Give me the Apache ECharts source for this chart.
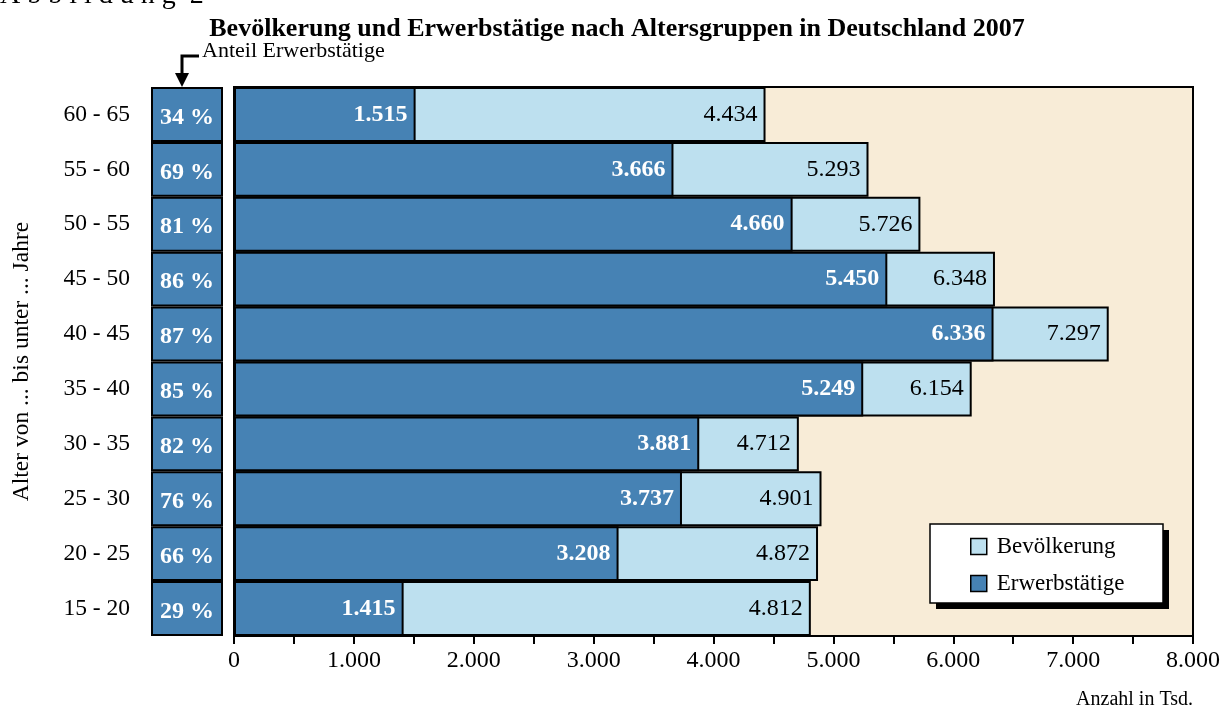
<!DOCTYPE html>
<html>
<head>
<meta charset="utf-8">
<script src="https://cdn.jsdelivr.net/npm/echarts@6/dist/echarts.min.js"></script>
<style>html,body{margin:0;padding:0;background:#fff;}#c{width:1230px;height:722px;}</style>
</head>
<body>
<div id="c"></div>
<script>
// Data (top row first)
const ageGroups = ["60 - 65","55 - 60","50 - 55","45 - 50","40 - 45","35 - 40","30 - 35","25 - 30","20 - 25","15 - 20"];
const population = [4434, 5293, 5726, 6348, 7297, 6154, 4712, 4901, 4872, 4812];
const employed   = [1515, 3666, 4660, 5450, 6336, 5249, 3881, 3737, 3208, 1415];
const sharePct   = [34, 69, 81, 86, 87, 85, 82, 76, 66, 29];
const xTicks = [0, 1000, 2000, 3000, 4000, 5000, 6000, 7000, 8000];

const FONT = '"Liberation Serif","Times New Roman",serif';
const DARK = '#4682B4';
const LIGHT = '#BDE0EF';
const BG = '#F8ECD7';
const fmt = v => String(v).replace(/\B(?=(\d{3})+(?!\d))/g, '.');

const chart = echarts.init(document.getElementById('c'), null, {renderer: 'canvas'});
const option = {
  animation: false,
  backgroundColor: '#fff',
  textStyle: {fontFamily: FONT, color: '#000'},
  title: {
    text: 'Bevölkerung und Erwerbstätige nach Altersgruppen in Deutschland 2007',
    left: 617, top: 16, textAlign: 'center', padding: 0,
    textStyle: {fontFamily: FONT, fontSize: 26, fontWeight: 'bold', color: '#000'}
  },
  legend: {
    data: ['Bevölkerung', 'Erwerbstätige'],
    orient: 'vertical',
    left: 970, top: 535,
    padding: 0,
    itemGap: 14,
    icon: 'rect',
    itemWidth: 16, itemHeight: 16,
    z: 20,
    textStyle: {fontFamily: FONT, fontSize: 23, color: '#000', padding: [0,0,0,5]},
    itemStyle: {borderColor: '#000', borderWidth: 1.5}
  },
  grid: [
    {left: 234, right: 37, top: 87, bottom: 86, show: true, backgroundColor: BG, borderColor: '#000', borderWidth: 2},
    {left: 151, width: 72, top: 87, bottom: 86}
  ],
  xAxis: [
    {
      gridIndex: 0, type: 'value', min: xTicks[0], max: xTicks[xTicks.length-1], interval: 1000,
      axisLine: {show: true, lineStyle: {color: '#000', width: 2}},
      axisTick: {show: true, length: 8, inside: false, lineStyle: {color: '#000', width: 2}},
      minorTick: {show: true, splitNumber: 2, length: 8, lineStyle: {color: '#000', width: 2}},
      splitLine: {show: false},
      axisLabel: {fontFamily: FONT, fontSize: 24, color: '#000', margin: 13, formatter: v => fmt(v)}
    },
    {gridIndex: 1, type: 'value', min: 0, max: 1, show: false}
  ],
  yAxis: [
    {
      gridIndex: 0, type: 'category', data: ageGroups, inverse: true,
      axisLine: {show: false}, axisTick: {show: false}, axisLabel: {show: false}
    },
    {
      gridIndex: 1, type: 'category', data: ageGroups, inverse: true,
      axisLine: {show: false}, axisTick: {show: false},
      axisLabel: {fontFamily: FONT, fontSize: 23.5, color: '#000', margin: 21},
      name: 'Alter von ... bis unter ... Jahre', nameLocation: 'middle', nameGap: 117, nameRotate: 90,
      nameTextStyle: {fontFamily: FONT, fontSize: 23.5, color: '#000'}
    }
  ],
  series: [
    {
      name: 'Bevölkerung', type: 'bar', xAxisIndex: 0, yAxisIndex: 0,
      data: population, barCategoryGap: 0, barGap: '-100%',
      itemStyle: {color: LIGHT, borderColor: '#000', borderWidth: 2},
      label: {show: true, position: 'insideRight', distance: 8, fontFamily: FONT, fontSize: 24, color: '#000',
        formatter: p => fmt(p.value)}
    },
    {
      name: 'Erwerbstätige', type: 'bar', xAxisIndex: 0, yAxisIndex: 0,
      data: employed, barCategoryGap: 0, barGap: '-100%',
      itemStyle: {color: DARK, borderColor: '#000', borderWidth: 2},
      label: {show: true, position: 'insideRight', distance: 8, fontFamily: FONT, fontSize: 24, fontWeight: 'bold', color: '#fff',
        formatter: p => fmt(p.value)}
    },
    {
      name: 'Anteil', type: 'bar', xAxisIndex: 1, yAxisIndex: 1,
      data: sharePct.map(v => ({value: 1, pct: v})), barCategoryGap: 0,
      itemStyle: {color: DARK, borderColor: '#000', borderWidth: 2},
      label: {show: true, position: 'inside', offset: [0, 3], fontFamily: FONT, fontSize: 24, fontWeight: 'bold', color: '#fff',
        formatter: p => sharePct[p.dataIndex] + ' %'}
    }
  ],
  graphic: [
    {type: 'text', left: 0, top: -18, style: {text: 'A b b i l d u n g  2', font: '28px ' + FONT, fill: '#000'}},
    {type: 'text', left: 202, top: 40, style: {text: 'Anteil Erwerbstätige', font: '22px ' + FONT, fill: '#000'}},
    {type: 'polyline', shape: {points: [[199, 56], [182, 56], [182, 76]]}, style: {stroke: '#000', lineWidth: 3, fill: null}},
    {type: 'polygon', shape: {points: [[175, 73], [189, 73], [182, 87]]}, style: {fill: '#000'}},
    {type: 'text', right: 37, top: 690, style: {text: 'Anzahl in Tsd.', font: '20px ' + FONT, fill: '#000', align: 'right'}},
    {type: 'rect', z: 5, shape: {x: 936, y: 530, width: 233, height: 79}, style: {fill: '#000'}},
    {type: 'rect', z: 6, shape: {x: 930, y: 524, width: 233, height: 79}, style: {fill: '#fff', stroke: '#000', lineWidth: 1.5}}
  ]
};
chart.setOption(option);
</script>
</body>
</html>
